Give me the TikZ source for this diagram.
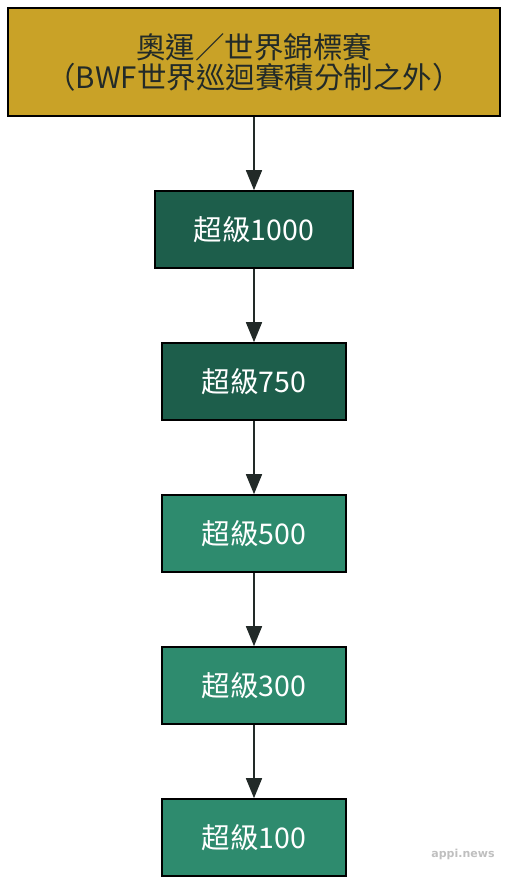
\documentclass[tikz,border=0pt]{standalone}
\usepackage{fontspec}
\setmainfont{Noto Sans CJK TC}
\newfontfamily\wmfont{DejaVu Sans}
\usetikzlibrary{arrows.meta}
\definecolor{gold}{HTML}{C9A227}
\definecolor{darkg}{HTML}{1D5E4B}
\definecolor{midg}{HTML}{2E8B6E}
\definecolor{ink}{HTML}{222A28}
\tikzset{
  box/.style={draw=black, line width=1.6pt, inner sep=0pt, font=\fontsize{28.5}{30}\selectfont},
  topbox/.style={box, fill=gold, text=ink, minimum width=492pt, minimum height=108pt, align=center, font=\fontsize{29.5}{30}\selectfont},
  dbox/.style={box, fill=darkg, text=white, minimum height=77pt},
  mbox/.style={box, fill=midg, text=white, minimum height=77pt, minimum width=184pt},
  conn/.style={draw=ink, line width=1.6pt, -{Triangle[length=20pt,width=16pt]}}
}
\begin{document}
\begin{tikzpicture}[x=1pt,y=-1pt]
\useasboundingbox (0,0) rectangle (508,885);
\node[topbox] (o) at (254,62) {奧運／世界錦標賽\\（BWF世界巡迴賽積分制之外）};
\node[dbox, minimum width=198pt] (a) at (254,229.5) {超級1000};
\node[dbox, minimum width=184pt] (b) at (254,381.5) {超級750};
\node[mbox] (c) at (254,533.5) {超級500};
\node[mbox] (d) at (254,685.5) {超級300};
\node[mbox] (e) at (254,837.5) {超級100};
\draw[conn] (o) -- (a);
\draw[conn] (a) -- (b);
\draw[conn] (b) -- (c);
\draw[conn] (c) -- (d);
\draw[conn] (d) -- (e);
\node[text=black!25, font=\wmfont\bfseries\fontsize{11}{13}\selectfont] (w) at (463,854) {appi.news};
\end{tikzpicture}
\end{document}
